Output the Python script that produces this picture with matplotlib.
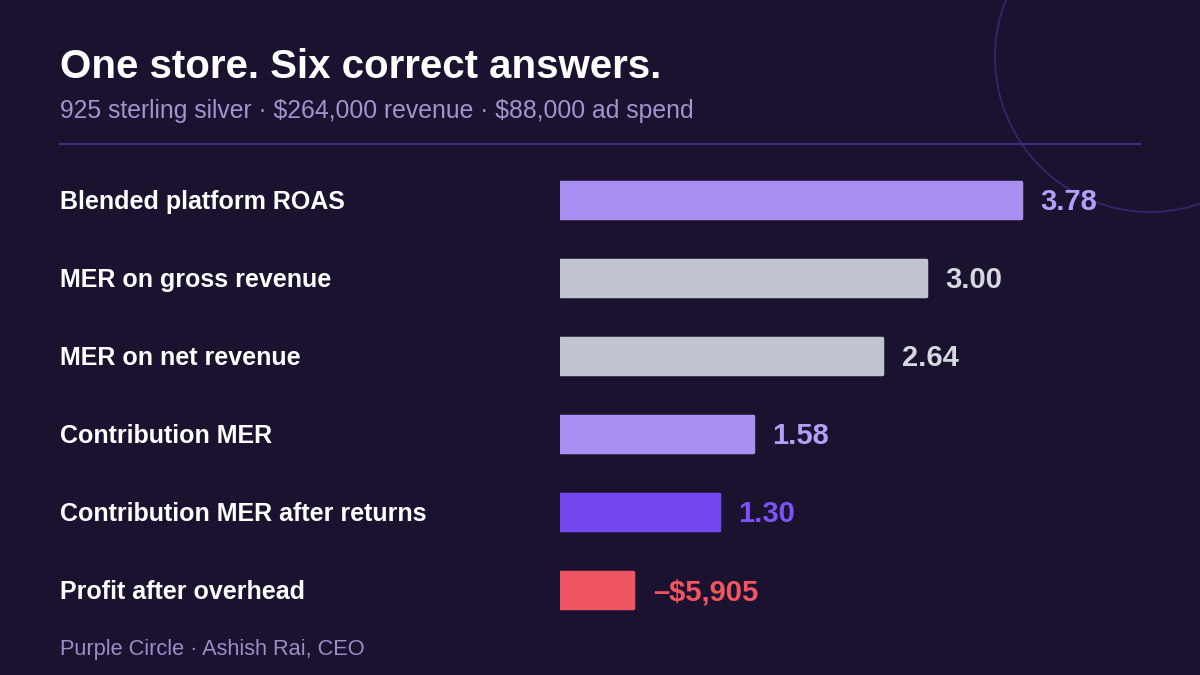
import matplotlib.pyplot as plt
from matplotlib.patches import Circle
from matplotlib.transforms import blended_transform_factory, offset_copy

# data
labels = ["Blended platform ROAS", "MER on gross revenue", "MER on net revenue",
          "Contribution MER", "Contribution MER after returns", "Profit after overhead"]
values = [3.78, 3.00, 2.64, 1.58, 1.30, -5905]
value_text = ["3.78", "3.00", "2.64", "1.58", "1.30", "\u2013\\$5,905"]
bar_colors = ["#a98ff2", "#c1c5cf", "#c1c5cf", "#a98ff2", "#7446f0", "#ef5560"]
text_colors = ["#b59ef7", "#d6d8df", "#d6d8df", "#b59ef7", "#7d52f6", "#f2555f"]

BG = "#1b1230"
STUB = 0.6  # money value is off the ratio scale, shown as a short stub

plt.rcParams['font.family'] = ['Liberation Sans', 'DejaVu Sans']
fig = plt.figure(figsize=(12, 6.75), dpi=100, facecolor=BG)

# background layer in pixel coords
bg = fig.add_axes([0, 0, 1, 1])
bg.set_xlim(0, 1200)
bg.set_ylim(675, 0)
bg.axis('off')
bg.set_facecolor(BG)
bg.add_patch(Circle((1150, 57), 155, fill=False, ec="#35246a", lw=1.3))
bg.plot([60, 1140], [144, 144], color="#402d80", lw=1.6)
bg.text(60, 67, "One store. Six correct answers.", color="white", fontsize=29,
        fontweight='bold', va='center', ha='left')
bg.text(60, 111, "925 sterling silver \u00b7 \\$264,000 revenue \u00b7 \\$88,000 ad spend",
        color="#a393cf", fontsize=17.8, va='center', ha='left')
bg.text(60, 649, "Purple Circle \u00b7 Ashish Rai, CEO", color="#9d8cc8",
        fontsize=15.7, va='center', ha='left')

# bar axes: x from 560px, 122 px per unit
ax = fig.add_axes([560 / 1200, 1 - 629 / 675, 488 / 1200, 468 / 675])
ax.set_xlim(0, 4.0)
ax.set_ylim(5.5, -0.5)
ax.axis('off')
ax.patch.set_alpha(0)

lengths = [v if 0 < v < 100 else STUB for v in values]
ypos = list(range(len(labels)))
bars = ax.barh(ypos, lengths, height=0.46, color=bar_colors,
               edgecolor=bar_colors, linewidth=2.5)
for b in bars:
    b.set_joinstyle('round')

tr = blended_transform_factory(fig.transFigure, ax.transData)
tr = offset_copy(tr, fig=fig, y=-2, units='dots')
for i, (lab, length, txt) in enumerate(zip(labels, lengths, value_text)):
    ax.text(60 / 1200, i, lab, transform=tr, color="white", fontsize=18,
            fontweight='bold', va='center', ha='left')
    ax.annotate(txt, (length, i), xytext=(14, -1.5), textcoords='offset points',
                color=text_colors[i], fontsize=21, fontweight='bold',
                va='center', ha='left')

fig.savefig("out.png", dpi=100, facecolor=BG)
